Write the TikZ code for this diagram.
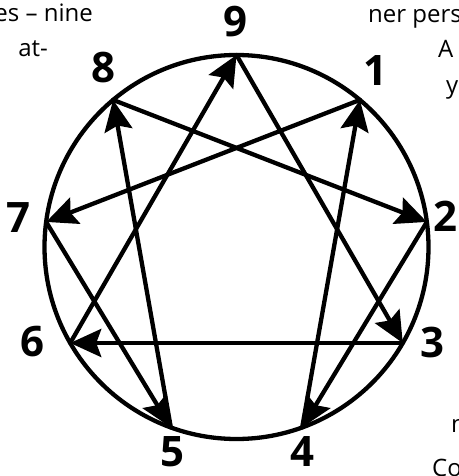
\documentclass[tikz,border=0pt]{standalone}
\usepackage{fontspec}
\setmainfont{Open Sans}
\usetikzlibrary{arrows.meta}

\begin{document}
\begin{tikzpicture}[x=1pt, y=-1pt, line cap=round, line join=round]

% --- Global TikZ Styles for Consistency ---
\tikzset{
    ring/.style={
        draw=black,
        line width=4.3pt
    },
    flow/.style={
        -{Stealth[length=31pt, width=28pt, inset=5pt]},
        draw=black,
        line width=4.3pt
    },
    digit/.style={
        font=\fontsize{42}{42}\selectfont\bfseries,
        inner sep=0pt
    },
    prose/.style={
        font=\fontsize{24}{24}\selectfont,
        inner sep=0pt
    }
}

\clip (0,0) rectangle (458,476);

% =========================================================================
% --- Points on the circle ---
% =========================================================================
\foreach \n/\a in {9/90, 1/50, 2/7.5, 3/-30, 4/-70, 5/-110, 6/-150, 7/172.5, 8/130}
    \coordinate (p\n) at ({236.5+192*cos(\a)}, {247-192*sin(\a)});

% --- Circle ---
\draw[ring] (236.5,247) circle[radius=192pt];

% --- Triangle 9-3-6 ---
\draw[flow] (p9) -- (p3);
\draw[flow] (p3) -- (p6);
\draw[flow] (p6) -- (p9);

% --- Hexad 1-7-5-8-2-4 ---
\draw[flow] (p1) -- (p7);
\draw[flow] (p7) -- (p5);
\draw[flow] (p5) -- (p8);
\draw[flow] (p8) -- (p2);
\draw[flow] (p2) -- (p4);
\draw[flow] (p4) -- (p1);

% --- Numbers ---
\node[digit] (l9) at (235,22)  {9};
\node[digit] (l1) at (375,71)  {1};
\node[digit] (l2) at (445,216) {2};
\node[digit] (l3) at (432,342) {3};
\node[digit] (l4) at (302,452) {4};
\node[digit] (l5) at (172,452) {5};
\node[digit] (l6) at (32,342)  {6};
\node[digit] (l7) at (18,218)  {7};
\node[digit] (l8) at (103,68)  {8};

% --- Surrounding text, cut by the frame ---
\node[prose, anchor=base east] (t1) at (93,22)  {es – nine};
\node[prose, anchor=base east] (t2) at (48,57)  {at-};
\node[prose, anchor=base west] (t3) at (368,23) {ner pers};
\node[prose, anchor=base west] (t4) at (438,58) {A};
\node[prose, anchor=base west] (t5) at (446,94) {y};
\node[prose, anchor=base west] (t6) at (451,432) {n};
\node[prose, anchor=base west] (t7) at (432,476) {Co};

\end{tikzpicture}
\end{document}
